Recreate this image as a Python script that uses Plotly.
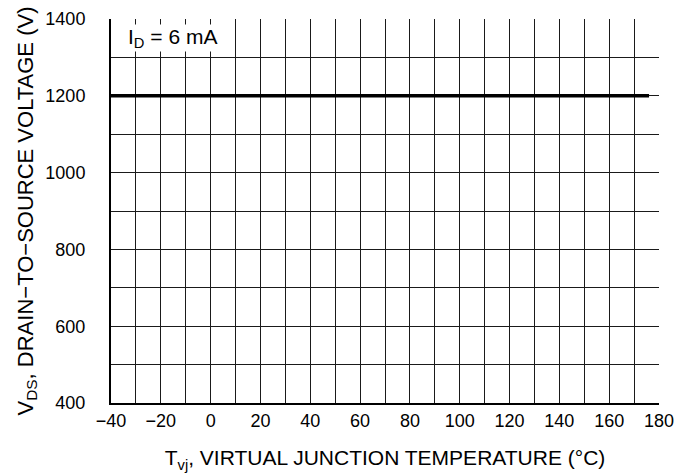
import plotly.graph_objects as go

# Data
temps = [-40, 176]          # Tvj (°C)
vds = [1200, 1200]          # VDS (V)
x_ticks = [-40, -20, 0, 20, 40, 60, 80, 100, 120, 140, 160, 180]
y_ticks = [400, 600, 800, 1000, 1200, 1400]

FONT = "Liberation Sans, Arial, Helvetica, sans-serif"

fig = go.Figure()
fig.add_trace(go.Scatter(x=temps, y=vds, mode="lines",
                         line=dict(color="black", width=3.5),
                         showlegend=False, cliponaxis=False))

fig.update_layout(
    width=675, height=474,
    margin=dict(l=111, r=16, t=19, b=71, autoexpand=False),
    paper_bgcolor="white", plot_bgcolor="white",
    font=dict(family=FONT, size=18, color="black"),
    showlegend=False,
)

fig.update_xaxes(
    range=[-40, 180], tickvals=x_ticks,
    ticktext=[("\u2212" + str(-v)) if v < 0 else str(v) for v in x_ticks],
    showgrid=True, gridcolor="#1a1a1a", gridwidth=1,
    minor=dict(dtick=10, tick0=-40, showgrid=True, gridcolor="#1a1a1a", gridwidth=1),
    showline=True, linecolor="black", linewidth=2, mirror=False,
    zeroline=False, ticks="", tickfont=dict(size=18),
    automargin=False,
    title=dict(text="T<sub>vj</sub>, VIRTUAL JUNCTION TEMPERATURE (°C)",
               font=dict(size=21), standoff=21),
)
fig.update_yaxes(
    range=[400, 1400], tickvals=y_ticks,
    showgrid=True, gridcolor="#1a1a1a", gridwidth=1,
    minor=dict(dtick=100, tick0=400, showgrid=True, gridcolor="#1a1a1a", gridwidth=1),
    showline=True, linecolor="black", linewidth=2, mirror=False,
    zeroline=False, ticks="", tickfont=dict(size=18),
    ticklabelstandoff=20, automargin=False,
    title=dict(text="V<sub>DS</sub>, DRAIN\u2212TO\u2212SOURCE VOLTAGE (V)",
               font=dict(size=22), standoff=6),
)

fig.add_annotation(
    xref="paper", yref="paper", x=0.03, y=0.95,
    xanchor="left", yanchor="middle",
    text="I<sub>D</sub> = 6 mA", showarrow=False,
    font=dict(size=21, family=FONT, color="black"),
    bgcolor="white", borderpad=0,
)

fig.write_html("out.html", config={"displayModeBar": False},
               post_script="document.body.style.margin='0';document.body.style.padding='0';")
